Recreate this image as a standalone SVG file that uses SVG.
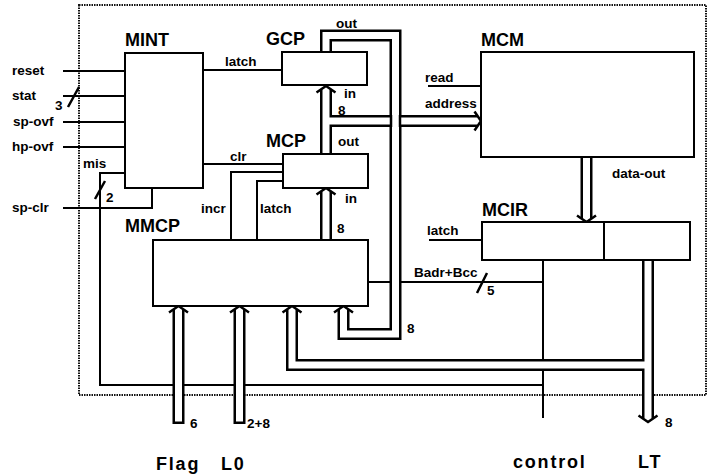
<svg xmlns="http://www.w3.org/2000/svg" width="713" height="474" viewBox="0 0 713 474">
<style>
.box{fill:#fff;stroke:#000;stroke-width:2}
.ln{fill:none;stroke:#000;stroke-width:2}
.sl{fill:none;stroke:#000;stroke-width:2.5}
.bo{fill:none;stroke:#000;stroke-width:12;stroke-linejoin:miter}
.bi{fill:none;stroke:#fff;stroke-width:7;stroke-linejoin:miter}
.ah{fill:none;stroke:#000;stroke-width:2.5;stroke-linejoin:miter}
.border{fill:none;stroke:#111;stroke-width:2;stroke-dasharray:1.5 1}
.t{font-family:"Liberation Sans",Arial,sans-serif;font-weight:bold;font-size:13.5px;fill:#000}
.n{font-family:"Liberation Sans",Arial,sans-serif;font-weight:bold;font-size:18px;fill:#000}
.e{font-family:"Liberation Sans",Arial,sans-serif;font-weight:bold;font-size:18px;letter-spacing:1.8px;fill:#000}
</style>
<rect class="border" x="79" y="5" width="627" height="390"/>
<g id="connectors">
  <path class="ln" d="M63,71H125M63,96H125M63,122H125M63,147H125M63,208H152V188"/>
  <path class="ln" d="M125,173H100V385H543"/>
  <path class="ln" d="M203,70H282M203,164H283"/>
  <path class="ln" d="M231,240V172H283M257,240V181H283"/>
  <path class="ln" d="M428,86H481M429,240H482"/>
  <path class="ln" d="M368,282H543M543,260V418"/>
  <path class="sl" d="M68,107L79,87M95,199L105,181M477,293L487,273"/>
  <path class="bo" d="M326,154V90"/>
  <path class="bo" d="M326,121H477"/>
  <path class="bo" d="M326,240V192"/>
  <path class="bo" d="M326,52V35.5H395.5V334H343.5V310"/>
  <path class="bo" d="M292,310V365H648"/>
  <path class="bo" d="M648,260V418"/>
  <path class="bo" d="M178.5,310V424"/>
  <path class="bo" d="M239.5,310V424"/>
  <path class="bo" d="M586.5,157V218"/>
  <path class="bi" d="M326,154V90"/>
  <path class="bi" d="M326,121H477"/>
  <path class="bi" d="M326,240V192"/>
  <path class="bi" d="M326,52V35.5H395.5V334H343.5V310"/>
  <path class="bi" d="M292,310V365H648"/>
  <path class="bi" d="M648,260V418"/>
  <path class="bi" d="M178.5,310V421.5"/>
  <path class="bi" d="M239.5,310V421.5"/>
  <path class="bi" d="M586.5,157V218"/>
  <path class="ln" d="M391,115V127M400,115V127" style="stroke-width:2.5"/>
  <polyline class="ah" points="316.5,92.5 326,86 335.5,92.5"/>
  <polyline class="ah" points="316.5,194.5 326,188 335.5,194.5"/>
  <polyline class="ah" points="474.5,111.5 481,121 474.5,130.5"/>
  <polyline class="ah" points="577,215.5 586.5,222 596,215.5"/>
  <polyline class="ah" points="638.5,415.5 648,422 657.5,415.5"/>
  <polyline class="ah" points="169,312.5 178.5,306 188,312.5"/>
  <polyline class="ah" points="230,312.5 239.5,306 249,312.5"/>
  <polyline class="ah" points="282.5,312.5 292,306 301.5,312.5"/>
  <polyline class="ah" points="334,312.5 343.5,306 353,312.5"/>
</g>
<g id="MINT">
  <rect class="box" x="125" y="53" width="78" height="135"/>
  <text class="n" x="125" y="46">MINT</text>
</g>
<g id="GCP">
  <rect class="box" x="282" y="52" width="85" height="33"/>
  <text class="n" x="266" y="45">GCP</text>
</g>
<g id="MCP">
  <rect class="box" x="283" y="154" width="85" height="34"/>
  <text class="n" x="266" y="147">MCP</text>
</g>
<g id="MCM">
  <rect class="box" x="481" y="52" width="213" height="105"/>
  <text class="n" x="481" y="46">MCM</text>
</g>
<g id="MCIR">
  <rect class="box" x="482" y="222" width="208" height="38"/>
  <line class="ln" x1="604" y1="222" x2="604" y2="260"/>
  <text class="n" x="482" y="216">MCIR</text>
</g>
<g id="MMCP">
  <rect class="box" x="153" y="240" width="215" height="66"/>
  <text class="n" x="125" y="232">MMCP</text>
</g>
<g id="labels">
  <text class="t" x="12" y="75">reset</text>
  <text class="t" x="12" y="100">stat</text>
  <text class="t" x="13" y="126">sp-ovf</text>
  <text class="t" x="12" y="151">hp-ovf</text>
  <text class="t" x="12" y="212">sp-clr</text>
  <text class="t" x="55" y="110">3</text>
  <text class="t" x="83" y="168">mis</text>
  <text class="t" x="106" y="202">2</text>
  <text class="t" x="225" y="66">latch</text>
  <text class="t" x="230" y="161">clr</text>
  <text class="t" x="336" y="28">out</text>
  <text class="t" x="344" y="98">in</text>
  <text class="t" x="338" y="115">8</text>
  <text class="t" x="338" y="146">out</text>
  <text class="t" x="345" y="203">in</text>
  <text class="t" x="337" y="233">8</text>
  <text class="t" x="201" y="213">incr</text>
  <text class="t" x="260" y="213">latch</text>
  <text class="t" x="425" y="82">read</text>
  <text class="t" x="425" y="108">address</text>
  <text class="t" x="612" y="178">data-out</text>
  <text class="t" x="427" y="235">latch</text>
  <text class="t" x="414" y="277">Badr+Bcc</text>
  <text class="t" x="487" y="295">5</text>
  <text class="t" x="407" y="333">8</text>
  <text class="t" x="190" y="428">6</text>
  <text class="t" x="247" y="428">2+8</text>
  <text class="t" x="665" y="427">8</text>
  <text class="e" x="156" y="470">Flag</text>
  <text class="e" x="221" y="470">L0</text>
  <text class="e" x="513" y="468">control</text>
  <text class="e" x="638" y="468">LT</text>
</g>
</svg>
